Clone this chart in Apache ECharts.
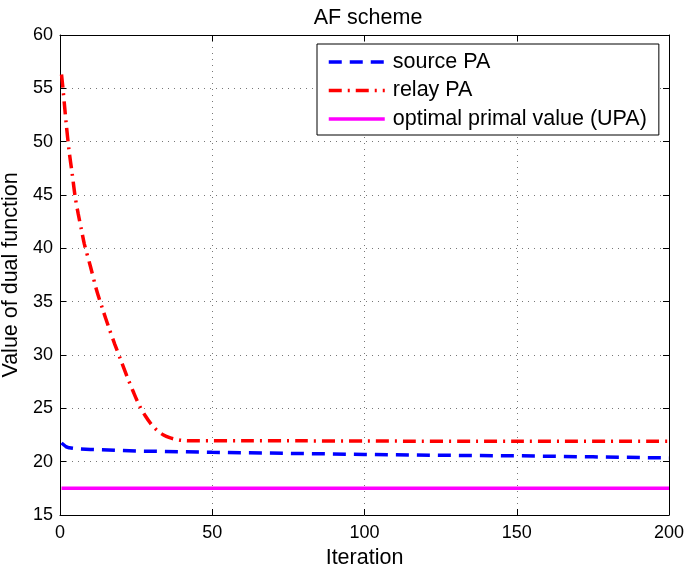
<!DOCTYPE html>
<html>
<head>
<meta charset="utf-8">
<script src="https://cdn.jsdelivr.net/npm/echarts@6/dist/echarts.min.js"></script>
<style>html,body{margin:0;padding:0;background:#fff}#c{width:685px;height:568px}</style>
</head>
<body>
<div id="c"></div>
<script>
const title = 'AF scheme';
const xName = 'Iteration';
const yName = 'Value of dual function';
const xTicks = [0, 50, 100, 150, 200];
const yTicks = [15, 20, 25, 30, 35, 40, 45, 50, 55, 60];
const seriesNames = ['source PA', 'relay PA', 'optimal primal value (UPA)'];

const sourceIter = [0.5, 2, 3, 5, 10, 25, 50, 75, 100, 125, 150, 175, 200];
const sourceVal  = [21.75, 21.4, 21.3, 21.22, 21.15, 21.0, 20.88, 20.78, 20.68, 20.6, 20.55, 20.45, 20.35];

const relayIter = [0.5, 1, 2, 3, 4, 5, 6, 7, 8, 10, 12, 14, 16, 18, 20, 22, 24, 26, 28, 30, 32, 34, 36, 38, 40, 45, 60, 80, 100, 150, 200];
const relayVal  = [56.3, 54.9, 51.8, 49.1, 47.0, 44.8, 43.2, 41.8, 40.4, 38.3, 36.1, 34.3, 32.6, 31.0, 29.5, 28.0, 26.6, 25.3, 24.3, 23.5, 22.9, 22.5, 22.25, 22.1, 22.0, 21.95, 21.95, 21.95, 21.93, 21.92, 21.92];

const upaIter = [0.5, 200];
const upaVal  = [17.5, 17.5];

const zip = (a, b) => a.map((v, i) => [v, b[i]]);
const font = '"Liberation Sans", Arial, Helvetica, sans-serif';

const chart = echarts.init(document.getElementById('c'));
const gridLine = {show: true, lineStyle: {color: '#777', type: [1, 5], width: 1}};
const axisBase = {
  type: 'value',
  axisLine: {show: true, onZero: false, lineStyle: {color: '#000', width: 1}},
  axisTick: {show: true, inside: true, length: 6, lineStyle: {color: '#000'}},
  splitLine: {show: false}
};
chart.setOption({
  animation: false,
  backgroundColor: '#fff',
  title: {text: title, left: 363, top: 2, textAlign: 'center',
    textStyle: {fontFamily: font, fontSize: 21.5, fontWeight: 'normal', color: '#000'}},
  grid: {left: 60, right: 16, top: 35, bottom: 53, outerBoundsMode: 'none', containLabel: false},
  legend: {
    orient: 'vertical', left: 317, top: 44,
    padding: [7, 12, 5, 10], itemGap: 6.5,
    itemWidth: 56, itemHeight: 21,
    borderColor: '#000', borderWidth: 1, backgroundColor: '#fff',
    itemStyle: {opacity: 0},
    lineStyle: {width: 3.5},
    textStyle: {fontFamily: font, fontSize: 21.5, color: '#000', lineHeight: 21, padding: [0, 0, 0, 3]},
    data: seriesNames
  },
  xAxis: [
    Object.assign({}, axisBase, {
      min: xTicks[0], max: xTicks[xTicks.length - 1], interval: 50,
      name: xName, nameLocation: 'middle', nameGap: 30,
      nameTextStyle: {fontFamily: font, fontSize: 21.5, color: '#000'},
      axisLabel: {fontFamily: font, fontSize: 18, color: '#000', margin: 9},
      splitLine: gridLine
    }),
    Object.assign({}, axisBase, {
      position: 'top', min: xTicks[0], max: xTicks[xTicks.length - 1], interval: 50,
      axisLabel: {show: false}
    })
  ],
  yAxis: [
    Object.assign({}, axisBase, {
      min: yTicks[0], max: yTicks[yTicks.length - 1], interval: 5,
      name: yName, nameLocation: 'middle', nameGap: 38, nameRotate: 90,
      nameTextStyle: {fontFamily: font, fontSize: 21.5, color: '#000'},
      axisLabel: {fontFamily: font, fontSize: 18, color: '#000', margin: 7},
      splitLine: gridLine
    }),
    Object.assign({}, axisBase, {
      position: 'right', min: yTicks[0], max: yTicks[yTicks.length - 1], interval: 5,
      axisLabel: {show: false}
    })
  ],
  series: [
    {name: seriesNames[0], type: 'line', data: zip(sourceIter, sourceVal), symbol: 'none',
      smooth: false, color: '#0000ff',
      lineStyle: {color: '#0000ff', width: 3.5, type: [13, 8]}},
    {name: seriesNames[1], type: 'line', data: zip(relayIter, relayVal), symbol: 'none',
      smooth: 0.3, color: '#ff0000',
      lineStyle: {color: '#ff0000', width: 3.5, type: [13, 6, 2, 6]}},
    {name: seriesNames[2], type: 'line', data: zip(upaIter, upaVal), symbol: 'none',
      color: '#ff00ff',
      lineStyle: {color: '#ff00ff', width: 3.5, type: 'solid'}}
  ]
});
</script>
</body>
</html>
